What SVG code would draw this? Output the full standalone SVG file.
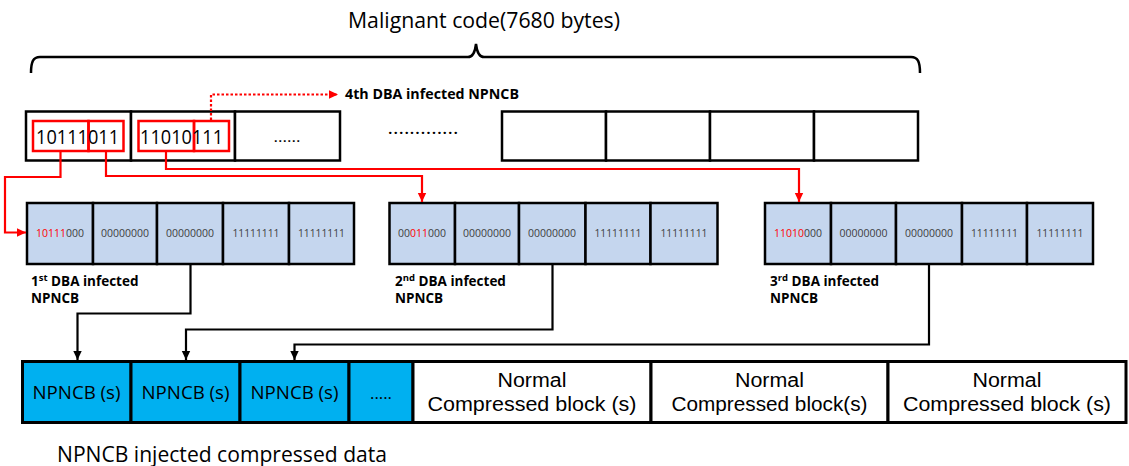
<svg xmlns="http://www.w3.org/2000/svg" width="1129" height="466" viewBox="0 0 1129 466">
<style>
  .t { font-family: "Open Sans", "Liberation Sans", sans-serif; fill: #000; }
  .n { font-family: "Liberation Sans", Arial, sans-serif; fill: #000; font-size: 20px; text-anchor: middle; }
  .b { font-family: "Open Sans", "Liberation Sans", sans-serif; font-weight: bold; fill: #000; font-size: 13.5px; }
  .cell { font-family: "Open Sans", "Liberation Sans", sans-serif; font-size: 11px; fill: #404040; text-anchor: middle; }
  .red { fill: #FF0000; }
  .box { fill: #fff; stroke: #000; stroke-width: 2.5; }
  .mb { fill: #C5D6EE; stroke: #000; stroke-width: 2.5; }
  .nb { fill: #00B0F0; stroke: #000; stroke-width: 3; }
  .wb { fill: #fff; stroke: #000; stroke-width: 3; }
  .rb { fill: none; stroke: #FF0000; stroke-width: 2.5; }
  .rc { fill: none; stroke: #FF0000; stroke-width: 2.2; }
  .bc { fill: none; stroke: #000; stroke-width: 2.2; }
</style>
<defs>
  <marker id="ar" markerUnits="userSpaceOnUse" markerWidth="10" markerHeight="10" refX="9" refY="5" orient="auto">
    <path d="M0,0.8 L9,5 L0,9.2 Z" fill="#FF0000"/>
  </marker>
  <marker id="ab" markerUnits="userSpaceOnUse" markerWidth="10" markerHeight="10" refX="9" refY="5" orient="auto">
    <path d="M0,0.8 L9,5 L0,9.2 Z" fill="#000"/>
  </marker>
</defs>

<g id="title">
  <text class="t" x="484" y="28" font-size="21" text-anchor="middle" textLength="272" lengthAdjust="spacingAndGlyphs">Malignant code(7680 bytes)</text>
  <path d="M31,73 C31,62 33,57 40,57 H468 C472,57 475,53 476,44 C477,53 480,57 484,57 H911 C918,57 920,62 920,73" fill="none" stroke="#000" stroke-width="2.5"/>
</g>

<g id="malignant-code-row">
  <rect class="box" x="26" y="111.5" width="105" height="49"/>
  <rect class="box" x="131" y="111.5" width="104" height="49"/>
  <rect class="box" x="235" y="111.5" width="105" height="49"/>
  <rect class="rb" x="33" y="121" width="55.5" height="30"/>
  <rect class="rb" x="88.5" y="121" width="35" height="30"/>
  <rect class="rb" x="138.5" y="121" width="55.5" height="30"/>
  <rect class="rb" x="194" y="121" width="35" height="30"/>
  <text class="t" x="36" y="144" font-size="20" textLength="83" lengthAdjust="spacingAndGlyphs">10111011</text>
  <text class="t" x="140" y="144" font-size="20" textLength="83" lengthAdjust="spacingAndGlyphs">11010111</text>
  <text class="t" x="287" y="142" font-size="15" text-anchor="middle" textLength="27" lengthAdjust="spacingAndGlyphs">......</text>
  <text class="t" x="423" y="134" font-size="18" text-anchor="middle" textLength="71" lengthAdjust="spacingAndGlyphs">.............</text>
  <rect class="box" x="502" y="111.5" width="104" height="49"/>
  <rect class="box" x="606" y="111.5" width="104" height="49"/>
  <rect class="box" x="710" y="111.5" width="104" height="49"/>
  <rect class="box" x="814" y="111.5" width="104" height="49"/>
  <text class="b" x="345" y="99" font-size="13" textLength="174" lengthAdjust="spacingAndGlyphs">4th DBA infected NPNCB</text>
</g>

<g id="npncb-1">
  <rect class="mb" x="27" y="203" width="66" height="61"/>
  <rect class="mb" x="93" y="203" width="64" height="61"/>
  <rect class="mb" x="157" y="203" width="66" height="61"/>
  <rect class="mb" x="223" y="203" width="66" height="61"/>
  <rect class="mb" x="289" y="203" width="65" height="61"/>
  <text class="cell" x="60" y="237" textLength="48" lengthAdjust="spacingAndGlyphs"><tspan class="red">10111</tspan>000</text>
  <text class="cell" x="125" y="237" textLength="48" lengthAdjust="spacingAndGlyphs">00000000</text>
  <text class="cell" x="190" y="237" textLength="48" lengthAdjust="spacingAndGlyphs">00000000</text>
  <text class="cell" x="256" y="237" textLength="47" lengthAdjust="spacingAndGlyphs">11111111</text>
  <text class="cell" x="321.5" y="237" textLength="47" lengthAdjust="spacingAndGlyphs">11111111</text>
  <text class="b" x="31" y="286">1<tspan font-size="9.5" dy="-5">st</tspan><tspan dy="5"> DBA infected</tspan></text>
  <text class="b" x="31" y="303">NPNCB</text>
</g>

<g id="npncb-2">
  <rect class="mb" x="389.5" y="203" width="65.5" height="61"/>
  <rect class="mb" x="455" y="203" width="64" height="61"/>
  <rect class="mb" x="519" y="203" width="66.5" height="61"/>
  <rect class="mb" x="585.5" y="203" width="65" height="61"/>
  <rect class="mb" x="650.5" y="203" width="67" height="61"/>
  <text class="cell" x="422" y="237" textLength="48" lengthAdjust="spacingAndGlyphs">00<tspan class="red">011</tspan>000</text>
  <text class="cell" x="487" y="237" textLength="48" lengthAdjust="spacingAndGlyphs">00000000</text>
  <text class="cell" x="552" y="237" textLength="48" lengthAdjust="spacingAndGlyphs">00000000</text>
  <text class="cell" x="618" y="237" textLength="47" lengthAdjust="spacingAndGlyphs">11111111</text>
  <text class="cell" x="684" y="237" textLength="47" lengthAdjust="spacingAndGlyphs">11111111</text>
  <text class="b" x="395" y="286">2<tspan font-size="9.5" dy="-5">nd</tspan><tspan dy="5"> DBA infected</tspan></text>
  <text class="b" x="395" y="303">NPNCB</text>
</g>

<g id="npncb-3">
  <rect class="mb" x="765" y="203" width="66" height="61"/>
  <rect class="mb" x="831" y="203" width="65" height="61"/>
  <rect class="mb" x="896" y="203" width="66" height="61"/>
  <rect class="mb" x="962" y="203" width="65" height="61"/>
  <rect class="mb" x="1027" y="203" width="66" height="61"/>
  <text class="cell" x="798" y="237" textLength="48" lengthAdjust="spacingAndGlyphs"><tspan class="red">11010</tspan>000</text>
  <text class="cell" x="863.5" y="237" textLength="48" lengthAdjust="spacingAndGlyphs">00000000</text>
  <text class="cell" x="929" y="237" textLength="48" lengthAdjust="spacingAndGlyphs">00000000</text>
  <text class="cell" x="994.5" y="237" textLength="47" lengthAdjust="spacingAndGlyphs">11111111</text>
  <text class="cell" x="1060" y="237" textLength="47" lengthAdjust="spacingAndGlyphs">11111111</text>
  <text class="b" x="770" y="286">3<tspan font-size="9.5" dy="-5">rd</tspan><tspan dy="5"> DBA infected</tspan></text>
  <text class="b" x="770" y="303">NPNCB</text>
</g>

<g id="compressed-data">
  <rect class="nb" x="22.5" y="361.5" width="108.5" height="61"/>
  <rect class="nb" x="131" y="361.5" width="109" height="61"/>
  <rect class="nb" x="240" y="361.5" width="109" height="61"/>
  <rect class="nb" x="349" y="361.5" width="64" height="61"/>
  <rect class="wb" x="413" y="361.5" width="238" height="61"/>
  <rect class="wb" x="651" y="361.5" width="237" height="61"/>
  <rect class="wb" x="888" y="361.5" width="238" height="61"/>
  <text class="t" x="76.5" y="399" font-size="19" text-anchor="middle" textLength="88" lengthAdjust="spacingAndGlyphs">NPNCB (s)</text>
  <text class="t" x="185.5" y="399" font-size="19" text-anchor="middle" textLength="88" lengthAdjust="spacingAndGlyphs">NPNCB (s)</text>
  <text class="t" x="294.5" y="399" font-size="19" text-anchor="middle" textLength="88" lengthAdjust="spacingAndGlyphs">NPNCB (s)</text>
  <text class="t" x="381" y="399" font-size="17" text-anchor="middle" textLength="22" lengthAdjust="spacingAndGlyphs">.....</text>
  <text class="n" x="532" y="387" textLength="69" lengthAdjust="spacingAndGlyphs">Normal</text>
  <text class="n" x="532" y="411" textLength="209" lengthAdjust="spacingAndGlyphs">Compressed block (s)</text>
  <text class="n" x="769.5" y="387" textLength="69" lengthAdjust="spacingAndGlyphs">Normal</text>
  <text class="n" x="769.5" y="411" textLength="196" lengthAdjust="spacingAndGlyphs">Compressed block(s)</text>
  <text class="n" x="1007" y="387" textLength="69" lengthAdjust="spacingAndGlyphs">Normal</text>
  <text class="n" x="1007" y="411" textLength="208" lengthAdjust="spacingAndGlyphs">Compressed block (s)</text>
  <text class="t" x="57" y="462" font-size="21" textLength="330" lengthAdjust="spacingAndGlyphs">NPNCB injected compressed data</text>
</g>

<g id="connectors">
  <path class="rc" d="M211,120 V94.5 H338" stroke-dasharray="2.5 2" marker-end="url(#ar)"/>
  <path class="rc" d="M60.5,151 V177 H5 V232.5 H26" marker-end="url(#ar)"/>
  <path class="rc" d="M106,151 V176 H422 V202" marker-end="url(#ar)"/>
  <path class="rc" d="M166,151 V169 H799 V202" marker-end="url(#ar)"/>
  <path class="bc" d="M190.5,264 V313.5 H77.5 V360" marker-end="url(#ab)"/>
  <path class="bc" d="M552.5,264 V329.5 H186 V360" marker-end="url(#ab)"/>
  <path class="bc" d="M929,264 V344.5 H294.5 V360" marker-end="url(#ab)"/>
</g>
</svg>
